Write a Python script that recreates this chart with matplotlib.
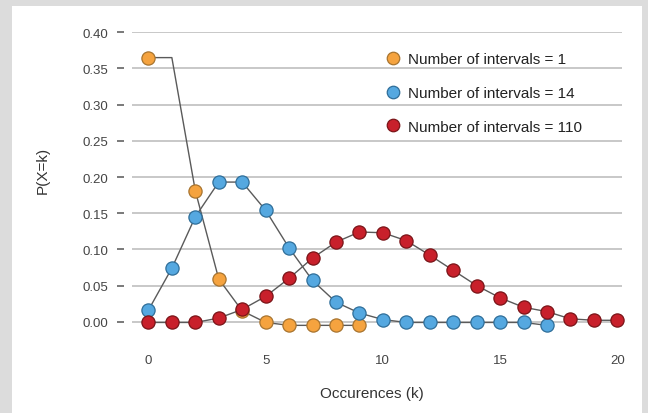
import matplotlib.pyplot as plt
import numpy as np

plt.rcParams["font.family"] = ["Liberation Sans", "DejaVu Sans"]

k_orange = [0, 1, 2, 3, 4, 5, 6, 7, 8, 9]
p_orange = [0.365, 0.365, 0.181, 0.059, 0.015, -0.001, -0.005, -0.005, -0.005, -0.005]

k_blue = list(range(18))
p_blue = [0.016, 0.074, 0.145, 0.193, 0.193, 0.154, 0.102, 0.057, 0.027, 0.012,
          0.003, -0.001, -0.001, -0.001, -0.001, -0.001, -0.001, -0.005]

k_red = list(range(21))
p_red = [-0.001, -0.001, -0.001, 0.005, 0.017, 0.035, 0.060, 0.088, 0.110, 0.124,
         0.123, 0.112, 0.092, 0.071, 0.050, 0.033, 0.020, 0.014, 0.004, 0.002, 0.002]

labels = ["Number of intervals = 1", "Number of intervals = 14", "Number of intervals = 110"]
y_ticks = [0.00, 0.05, 0.10, 0.15, 0.20, 0.25, 0.30, 0.35, 0.40]
x_ticks = [0, 5, 10, 15, 20]

fig = plt.figure(figsize=(6.48, 4.14), dpi=100)
fig.patch.set_facecolor("#dcdcdc")
fig.add_artist(plt.Rectangle((12 / 648, 0), 630 / 648, 407 / 414,
                             transform=fig.transFigure, facecolor="white",
                             edgecolor="none", zorder=0))

ax = fig.add_axes([0.2037, 0.1855, 0.7562, 0.7341])
ax.set_facecolor("none")

series = [
    (k_orange, p_orange, "#f5a33f", "#a8742f", [0, 2, 3, 4, 5, 6, 7, 8, 9]),
    (k_blue, p_blue, "#55a8e0", "#2f6e99", None),
    (k_red, p_red, "#c8202b", "#7a1418", None),
]
handles = []
for i, (xs, ys, face, edge, every) in enumerate(series):
    ax.plot(xs, ys, color="#5a5a5a", linewidth=1.0, zorder=2 + i * 2, clip_on=False)
    h, = ax.plot(xs, ys, linestyle="none", marker="o", markersize=9.5,
                 markerfacecolor=face, markeredgecolor=edge, markeredgewidth=0.9,
                 markevery=every, zorder=3 + i * 2, clip_on=False)
    handles.append(h)

ax.set_xlim(-0.7, 20.2)
ax.set_ylim(-0.02, 0.40)
ax.set_yticks(y_ticks)
ax.set_yticklabels(["%.2f" % v for v in y_ticks])
ax.set_xticks(x_ticks)

for side in ["top", "right", "bottom"]:
    ax.spines[side].set_visible(False)
ax.spines["left"].set_position(("outward", 5.5))
ax.spines["left"].set_visible(False)

ax.yaxis.grid(True, color="#c4c4c4", linewidth=1.3)
ax.set_axisbelow(True)
ax.tick_params(axis="y", length=5, width=1.1, color="#555555", pad=6.5,
               labelsize=9.5, labelcolor="#444444")
ax.tick_params(axis="x", length=0, pad=13, labelsize=9.5, labelcolor="#444444")

ax.set_xlabel("Occurences (k)", fontsize=11, color="#333333")
ax.xaxis.set_label_coords(0.49, -0.165)
ax.set_ylabel("P(X=k)", fontsize=11, color="#333333")
ax.yaxis.set_label_coords(-0.168, 0.55)

legend_handles = [plt.Line2D([], [], linestyle="none", marker="o", markersize=9,
                             markerfacecolor=h.get_markerfacecolor(),
                             markeredgecolor=h.get_markeredgecolor(),
                             markeredgewidth=0.9) for h in handles]
fig.legend(legend_handles, labels, loc="upper left", bbox_to_anchor=(0.5948, 0.872),
           frameon=False, fontsize=11, borderpad=0, borderaxespad=0,
           handlelength=1.0, handletextpad=0.48, labelspacing=1.3,
           labelcolor="#222222")

fig.savefig("out.png", dpi=100, facecolor=fig.get_facecolor())
